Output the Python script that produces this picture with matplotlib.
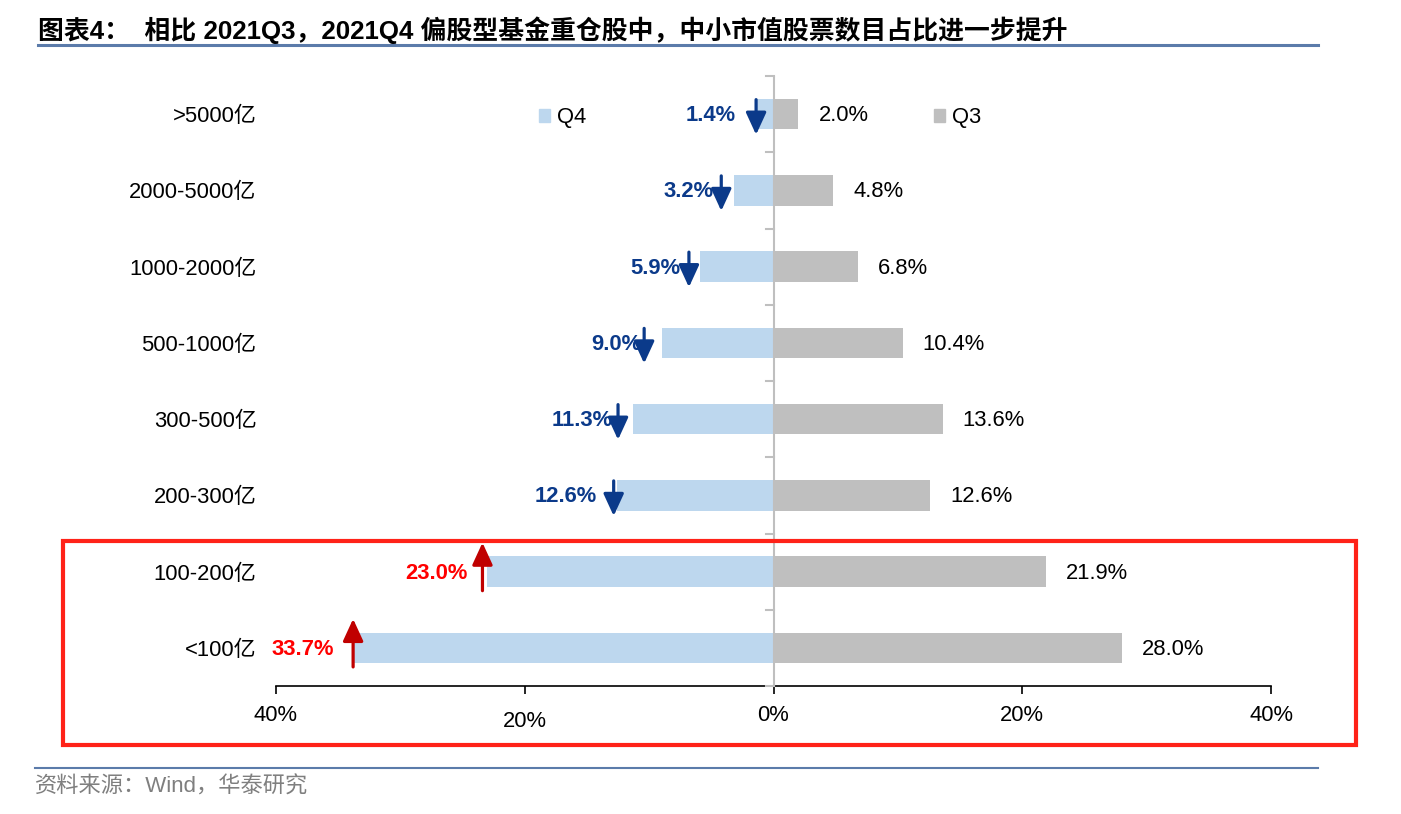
import matplotlib
matplotlib.use("Agg")
import matplotlib.pyplot as plt
from matplotlib.patches import Rectangle, Patch
from matplotlib.lines import Line2D
from matplotlib.transforms import ScaledTranslation

plt.rcParams['font.family'] = ['Liberation Sans', 'Noto Sans CJK SC', 'DejaVu Sans']

categories = [">5000亿", "2000-5000亿", "1000-2000亿", "500-1000亿",
              "300-500亿", "200-300亿", "100-200亿", "<100亿"]
q4 = [1.4, 3.2, 5.9, 9.0, 11.3, 12.6, 23.0, 33.7]
q3 = [2.0, 4.8, 6.8, 10.4, 13.6, 12.6, 21.9, 28.0]
direction = ["down", "down", "down", "down", "down", "down", "up", "up"]
xticks = [-40, -20, 0, 20, 40]
xticklabels = ["40%", "20%", "0%", "20%", "40%"]
title = "图表4：  相比 2021Q3，2021Q4 偏股型基金重仓股中，中小市值股票数目占比进一步提升"
source = "资料来源：Wind，华泰研究"

# style: small horizontal nudges of arrows relative to bar ends (in % units)
arrow_shift = [0.0, 1.0, 0.9, 1.4, 1.2, 0.25, 0.4, 0.1]

W, H = 1401, 814
fig = plt.figure(figsize=(W / 100, H / 100), dpi=100)
ax = fig.add_axes([276 / W, 1 - 686 / H, (1271 - 276) / W, (686 - 76) / H])

c_q4 = "#BDD7EE"
c_q3 = "#BFBFBF"
navy = "#0B3A8A"
red_txt = "#FF0000"
red_arrow = "#C00000"
fs = 15.8

y = list(range(len(categories)))
bh = 0.40
ax.barh(y, [-v for v in q4], height=bh, color=c_q4, zorder=2)
ax.barh(y, q3, height=bh, color=c_q3, zorder=2)

ax.set_xlim(-40, 40)
ax.set_ylim(len(categories) - 0.5, -0.5)

# central axis with category separators
ax.axvline(0, color="#BFBFBF", lw=1.5, zorder=3)
for b in range(len(categories) + 1):
    ax.plot([-0.6, 0], [b - 0.5, b - 0.5], color="#BFBFBF", lw=1.5, zorder=3, clip_on=False)

for s in ["left", "right", "top"]:
    ax.spines[s].set_visible(False)
ax.spines["bottom"].set_color("#000000")
ax.spines["bottom"].set_linewidth(1.2)

ax.set_yticks(y)
ax.set_yticklabels(categories, fontsize=fs)
ax.tick_params(axis="y", length=0, pad=14)
ax.set_xticks(xticks)
ax.set_xticklabels(xticklabels, fontsize=fs)
ax.tick_params(axis="x", length=6, width=1.2, pad=8, direction="out")
# left 20% label sits slightly lower in the reference
lbls = ax.get_xticklabels()
lbls[1].set_transform(lbls[1].get_transform() + ScaledTranslation(0, -4 / 72, fig.dpi_scale_trans))

for i, (a, b, d) in enumerate(zip(q4, q3, direction)):
    tcol = navy if d == "down" else red_txt
    acol = navy if d == "down" else red_arrow
    ax.annotate(f"{a:.1f}%", xy=(-a, i), xytext=(-14.4, -1), textcoords="offset points",
                ha="right", va="center", fontsize=fs, fontweight="bold", color=tcol, zorder=5)
    ax.annotate(f"{b:.1f}%", xy=(b, i), xytext=(14.4, -1), textcoords="offset points",
                ha="left", va="center", fontsize=fs, color="#000000", zorder=5)
    ax_x = -a - arrow_shift[i]
    if d == "down":
        tail, head = (ax_x, i - 0.19), (ax_x, i + 0.27)
    else:
        tail, head = (ax_x, i + 0.25), (ax_x, i - 0.38)
    ax.annotate("", xy=head, xytext=tail,
                arrowprops=dict(arrowstyle="-|>,head_length=1.35,head_width=0.62",
                                color=acol, lw=2.3, mutation_scale=10,
                                shrinkA=0, shrinkB=0), zorder=6)

# legends
leg_kw = dict(frameon=False, fontsize=fs, handlelength=0.5, handleheight=0.5,
              handletextpad=0.3, borderpad=0, borderaxespad=0, loc="center left",
              bbox_transform=fig.transFigure)
leg1 = ax.legend([Patch(color=c_q4)], ["Q4"], bbox_to_anchor=(539 / W, 1 - 118 / H), **leg_kw)
ax.add_artist(leg1)
ax.legend([Patch(color=c_q3)], ["Q3"], bbox_to_anchor=(934 / W, 1 - 118 / H), **leg_kw)

# title, rules and source
fig.text(38 / W, 1 - 30 / H, title, fontsize=18.6, fontweight="bold", ha="left", va="center",
         color="#000000")
fig.add_artist(Line2D([38 / W, 1318 / W], [1 - 45 / H, 1 - 45 / H], color="#5B7BAA", lw=2.2))
fig.add_artist(Line2D([35 / W, 1318 / W], [1 - 768 / H, 1 - 768 / H], color="#5B7BAA", lw=1.5))
fig.text(35 / W, 1 - 787 / H, source, fontsize=16, ha="left", va="center", color="#7F7F7F")

# red highlight box
fig.add_artist(Rectangle((63 / W, 1 - 745 / H), (1356 - 63) / W, (745 - 541) / H,
                         transform=fig.transFigure, fill=False, edgecolor="#FF2218", lw=3.0))

fig.savefig("out.png", dpi=100)
